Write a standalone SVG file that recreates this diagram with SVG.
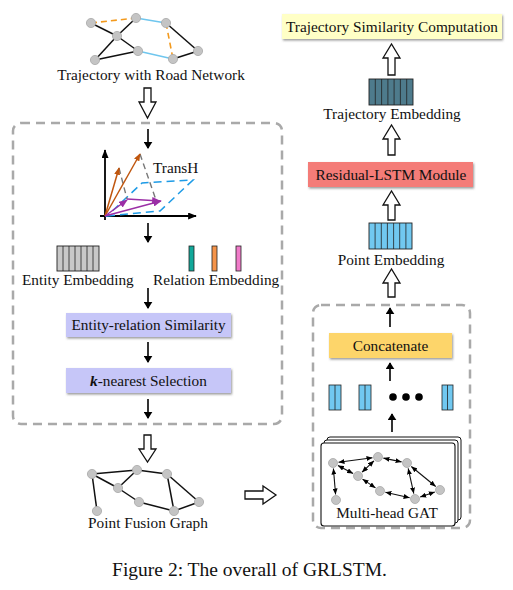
<svg xmlns="http://www.w3.org/2000/svg" width="513" height="590" viewBox="0 0 513 590">
<defs>
<style>
text{font-family:"Liberation Serif","Times New Roman",serif;fill:#111}
.t14{font-size:15.3px}
.lbl{font-size:15.3px;text-anchor:middle}
.node{fill:#c4c4c4;stroke:#a8a8a8;stroke-width:0.8}
.edge{stroke:#111;stroke-width:1.5;fill:none}
.hollow{fill:#fff;stroke:#111;stroke-width:1.3}
.dashbox{fill:none;stroke:#a9a9a9;stroke-width:2.5;stroke-dasharray:9 6}
.sm{stroke:#000;stroke-width:1.6;marker-end:url(#ah)}
.gat{stroke:#111;stroke-width:1.1;marker-start:url(#ga);marker-end:url(#ga)}
.stripe{stroke:#222;stroke-width:0.8}
</style>
<marker id="ah" viewBox="0 0 8 10" refX="7" refY="5" markerWidth="7" markerHeight="9" markerUnits="userSpaceOnUse" orient="auto"><path d="M0,0 L8,5 L0,10 z" fill="#000"/></marker>
<marker id="ga" viewBox="0 0 6 5" refX="6" refY="2.5" markerWidth="6" markerHeight="5" markerUnits="userSpaceOnUse" orient="auto-start-reverse"><path d="M0,0 L6,2.5 L0,5 z" fill="#000"/></marker>
<marker id="ax" viewBox="0 0 10 8" refX="9" refY="4" markerWidth="9" markerHeight="7" markerUnits="userSpaceOnUse" orient="auto"><path d="M0,0 L10,4 L0,8 z" fill="#000"/></marker>
<marker id="oa" viewBox="0 0 10 8" refX="9" refY="4" markerWidth="8" markerHeight="6" markerUnits="userSpaceOnUse" orient="auto"><path d="M0,0 L10,4 L0,8 z" fill="#c0560e"/></marker>
<marker id="pa" viewBox="0 0 10 8" refX="9" refY="4" markerWidth="9" markerHeight="7" markerUnits="userSpaceOnUse" orient="auto"><path d="M0,0 L10,4 L0,8 z" fill="#9b2fa6"/></marker>
<filter id="sh" x="-10%" y="-20%" width="120%" height="150%"><feDropShadow dx="1" dy="1.5" stdDeviation="0.8" flood-color="#555" flood-opacity="0.6"/></filter>
</defs>

<!-- Trajectory with road network -->
<g id="road-network">
<line x1="91" y1="23" x2="136" y2="18" stroke="#f39a1e" stroke-width="1.6" stroke-dasharray="6 4"/>
<line x1="136" y1="18" x2="166" y2="23" stroke="#6fc6ee" stroke-width="1.6"/>
<line x1="138" y1="51" x2="173" y2="59" stroke="#6fc6ee" stroke-width="1.6"/>
<line x1="166" y1="23" x2="173" y2="59" stroke="#f39a1e" stroke-width="1.6" stroke-dasharray="6 4"/>
<line class="edge" x1="117" y1="36" x2="136" y2="18"/>
<line class="edge" x1="91" y1="23" x2="117" y2="36"/>
<line class="edge" x1="117" y1="36" x2="138" y2="51"/>
<line class="edge" x1="95" y1="60" x2="117" y2="36"/>
<line class="edge" x1="95" y1="60" x2="138" y2="51"/>
<line class="edge" x1="166" y1="23" x2="198" y2="51"/>
<line class="edge" x1="173" y1="59" x2="198" y2="51"/>
<circle class="node" cx="91" cy="23" r="4.6"/>
<circle class="node" cx="136" cy="18" r="4.6"/>
<circle class="node" cx="117" cy="36" r="4.6"/>
<circle class="node" cx="166" cy="23" r="4.6"/>
<circle class="node" cx="138" cy="51" r="4.6"/>
<circle class="node" cx="95" cy="60" r="4.6"/>
<circle class="node" cx="173" cy="59" r="4.6"/>
<circle class="node" cx="198" cy="51" r="4.6"/>
<text class="lbl" x="151" y="80">Trajectory with Road Network</text>
</g>

<g id="kg-module">
<rect class="dashbox" x="13" y="123" width="269" height="301" rx="8"/>
</g>

<g id="transh">
<line x1="105" y1="220" x2="105" y2="150" stroke="#000" stroke-width="1.8" marker-end="url(#ax)"/>
<line x1="100" y1="216" x2="196" y2="216" stroke="#000" stroke-width="1.8" marker-end="url(#ax)"/>
<path d="M107,216 L160,211 L193,180 L142,183 Z" fill="none" stroke="#1e9be6" stroke-width="1.5" stroke-dasharray="8 5"/>
<line x1="140" y1="154" x2="156" y2="200" stroke="#777" stroke-width="1.4" stroke-dasharray="6 4"/>
<line x1="119" y1="168" x2="127" y2="199" stroke="#777" stroke-width="1.4" stroke-dasharray="6 4"/>
<line x1="105" y1="216" x2="119" y2="168" stroke="#c0560e" stroke-width="1.5" marker-end="url(#oa)"/>
<line x1="105" y1="216" x2="140" y2="154" stroke="#c0560e" stroke-width="1.5" marker-end="url(#oa)"/>
<line x1="105" y1="216" x2="161" y2="201" stroke="#9b2fa6" stroke-width="1.5" marker-end="url(#pa)"/>
<line x1="105" y1="216" x2="127" y2="200" stroke="#9b2fa6" stroke-width="1.5" marker-end="url(#pa)"/>
<line x1="127" y1="199" x2="160" y2="201" stroke="#9b2fa6" stroke-width="1.5" marker-end="url(#pa)"/>
<text class="t14" x="153" y="173">TransH</text>
</g>

<g id="entity-embedding">
<rect x="57" y="246" width="42" height="25" fill="#c8c8c8" stroke="#222" stroke-width="0.9"/>
<path class="stripe" d="M63,246V271M69,246V271M75,246V271M81,246V271M87,246V271M93,246V271"/>
<text class="t14" x="22" y="285">Entity Embedding</text>
</g>

<g id="relation-embedding">
<rect x="189" y="246" width="5" height="25" fill="#12a89a" stroke="#222" stroke-width="0.8"/>
<rect x="212" y="246" width="5" height="25" fill="#f5944a" stroke="#222" stroke-width="0.8"/>
<rect x="236" y="246" width="5" height="25" fill="#f07bc9" stroke="#222" stroke-width="0.8"/>
<text class="t14" x="153" y="285">Relation Embedding</text>
</g>

<g id="entity-relation-similarity">
<rect x="66" y="313" width="165" height="24" fill="#c6c6f8" filter="url(#sh)"/>
<text class="lbl" x="148.5" y="330">Entity-relation Similarity</text>
</g>

<g id="knearest-selection">
<rect x="66" y="368" width="165" height="25" fill="#c6c6f8" filter="url(#sh)"/>
<text class="lbl" x="148.5" y="386"><tspan font-weight="bold" font-style="italic">k</tspan>-nearest Selection</text>
</g>

<g id="point-fusion-graph">
<line class="edge" x1="92" y1="474" x2="137" y2="470"/>
<line class="edge" x1="137" y1="470" x2="167" y2="474"/>
<line class="edge" x1="92" y1="474" x2="118" y2="488"/>
<line class="edge" x1="118" y1="488" x2="137" y2="470"/>
<line class="edge" x1="92" y1="474" x2="97" y2="511"/>
<line class="edge" x1="118" y1="488" x2="139" y2="502"/>
<line class="edge" x1="139" y1="502" x2="174" y2="511"/>
<line class="edge" x1="167" y1="474" x2="174" y2="511"/>
<line class="edge" x1="167" y1="474" x2="199" y2="502"/>
<line class="edge" x1="174" y1="511" x2="199" y2="502"/>
<circle class="node" cx="92" cy="474" r="4.6"/>
<circle class="node" cx="137" cy="470" r="4.6"/>
<circle class="node" cx="167" cy="474" r="4.6"/>
<circle class="node" cx="118" cy="488" r="4.6"/>
<circle class="node" cx="139" cy="502" r="4.6"/>
<circle class="node" cx="97" cy="511" r="4.6"/>
<circle class="node" cx="174" cy="511" r="4.6"/>
<circle class="node" cx="199" cy="502" r="4.6"/>
<text class="lbl" x="148" y="528">Point Fusion Graph</text>
</g>

<g id="trajectory-similarity">
<rect x="282" y="14" width="220" height="25" fill="#ffffc6" filter="url(#sh)"/>
<text class="lbl" x="392" y="32">Trajectory Similarity Computation</text>
</g>

<g id="trajectory-embedding">
<rect x="369" y="79" width="44" height="26" fill="#4e7b8c" stroke="#222" stroke-width="0.9"/>
<path class="stripe" d="M375.3,79V105M381.6,79V105M387.9,79V105M394.1,79V105M400.4,79V105M406.7,79V105"/>
<text class="lbl" x="392" y="119">Trajectory Embedding</text>
</g>

<g id="residual-lstm">
<rect x="308" y="162" width="165" height="25" fill="#f47b78" filter="url(#sh)"/>
<text class="lbl" x="391" y="180">Residual-LSTM Module</text>
</g>

<g id="point-embedding">
<rect x="369" y="223" width="43" height="26" fill="#71c8f0" stroke="#222" stroke-width="0.9"/>
<path class="stripe" d="M375.1,223V249M381.3,223V249M387.4,223V249M393.6,223V249M399.7,223V249M405.9,223V249"/>
<text class="lbl" x="391" y="265">Point Embedding</text>
</g>

<g id="gat-module">
<rect class="dashbox" x="313" y="305" width="157" height="223" rx="8"/>
</g>

<g id="concatenate">
<rect x="329" y="333" width="123" height="25" fill="#fdd56b" filter="url(#sh)"/>
<text class="lbl" x="390.5" y="351">Concatenate</text>
</g>

<g id="head-outputs">
<rect x="329" y="385" width="12" height="25" fill="#71c8f0" stroke="#222" stroke-width="0.8"/>
<line class="stripe" x1="335" y1="385" x2="335" y2="410"/>
<rect x="359" y="385" width="12" height="25" fill="#71c8f0" stroke="#222" stroke-width="0.8"/>
<line class="stripe" x1="365" y1="385" x2="365" y2="410"/>
<rect x="442" y="385" width="11" height="25" fill="#71c8f0" stroke="#222" stroke-width="0.8"/>
<line class="stripe" x1="447.5" y1="385" x2="447.5" y2="410"/>
<circle cx="393" cy="397" r="3.8" fill="#000"/>
<circle cx="406" cy="397" r="3.8" fill="#000"/>
<circle cx="419" cy="397" r="3.8" fill="#000"/>
</g>

<g id="multi-head-gat">
<rect x="327" y="437" width="134" height="83" rx="3" fill="#fff" stroke="#111" stroke-width="1"/>
<rect x="324" y="440" width="134" height="83" rx="3" fill="#fff" stroke="#111" stroke-width="1"/>
<rect x="321" y="443" width="134" height="83" rx="3" fill="#fff" stroke="#111" stroke-width="1.1"/>
<line class="gat" x1="338.5" y1="462.3" x2="372.5" y2="457.7"/>
<line class="gat" x1="383.4" y1="458.1" x2="401.6" y2="461.9"/>
<line class="gat" x1="337.9" y1="465.5" x2="353.1" y2="473.5"/>
<line class="gat" x1="362" y1="472.2" x2="374" y2="460.8"/>
<line class="gat" x1="333.4" y1="468.5" x2="335.6" y2="494.5"/>
<line class="gat" x1="362.5" y1="479.1" x2="375.5" y2="487.9"/>
<line class="gat" x1="385.4" y1="492.2" x2="409.6" y2="497.8"/>
<line class="gat" x1="408.2" y1="468.4" x2="413.8" y2="493.6"/>
<line class="gat" x1="411.3" y1="466.5" x2="435.7" y2="486.5"/>
<line class="gat" x1="420.2" y1="497.1" x2="434.8" y2="491.9"/>
<circle class="node" cx="333" cy="463" r="4.5"/>
<circle class="node" cx="378" cy="457" r="4.5"/>
<circle class="node" cx="407" cy="463" r="4.5"/>
<circle class="node" cx="358" cy="476" r="4.5"/>
<circle class="node" cx="380" cy="491" r="4.5"/>
<circle class="node" cx="336" cy="500" r="4.5"/>
<circle class="node" cx="415" cy="499" r="4.5"/>
<circle class="node" cx="440" cy="490" r="4.5"/>
<text class="lbl" x="387" y="518">Multi-head GAT</text>
</g>

<g id="connectors">
<path class="hollow" d="M144,88 H151 V102 H156 L147.5,118 L139,102 H144 Z"/>
<path class="hollow" d="M144,435 H151 V449 H156 L147.5,462 L139,449 H144 Z"/>
<path class="hollow" d="M245,491 H263 V486 L276,495 L263,504 V499 H245 Z"/>
<path class="hollow" d="M388,75 V58 H383 L391.5,44 L400,58 H395 V75 Z"/>
<path class="hollow" d="M388,155 V139 H383 L391.5,125 L400,139 H395 V155 Z"/>
<path class="hollow" d="M388,220 V205 H383 L391.5,191 L400,205 H395 V220 Z"/>
<path class="hollow" d="M388,297 V283 H383 L391.5,269 L400,283 H395 V297 Z"/>
<line class="sm" x1="148" y1="129" x2="148" y2="148"/>
<line class="sm" x1="148" y1="223" x2="148" y2="242"/>
<line class="sm" x1="148" y1="288" x2="148" y2="308"/>
<line class="sm" x1="148" y1="342" x2="148" y2="362"/>
<line class="sm" x1="148" y1="399" x2="148" y2="418"/>
<line class="sm" x1="390" y1="327" x2="390" y2="308"/>
<line class="sm" x1="390" y1="381" x2="390" y2="363"/>
<line class="sm" x1="392" y1="432" x2="392" y2="414"/>
</g>

<text x="249.5" y="576" font-size="19.5" text-anchor="middle">Figure 2: The overall of GRLSTM.</text>
</svg>
